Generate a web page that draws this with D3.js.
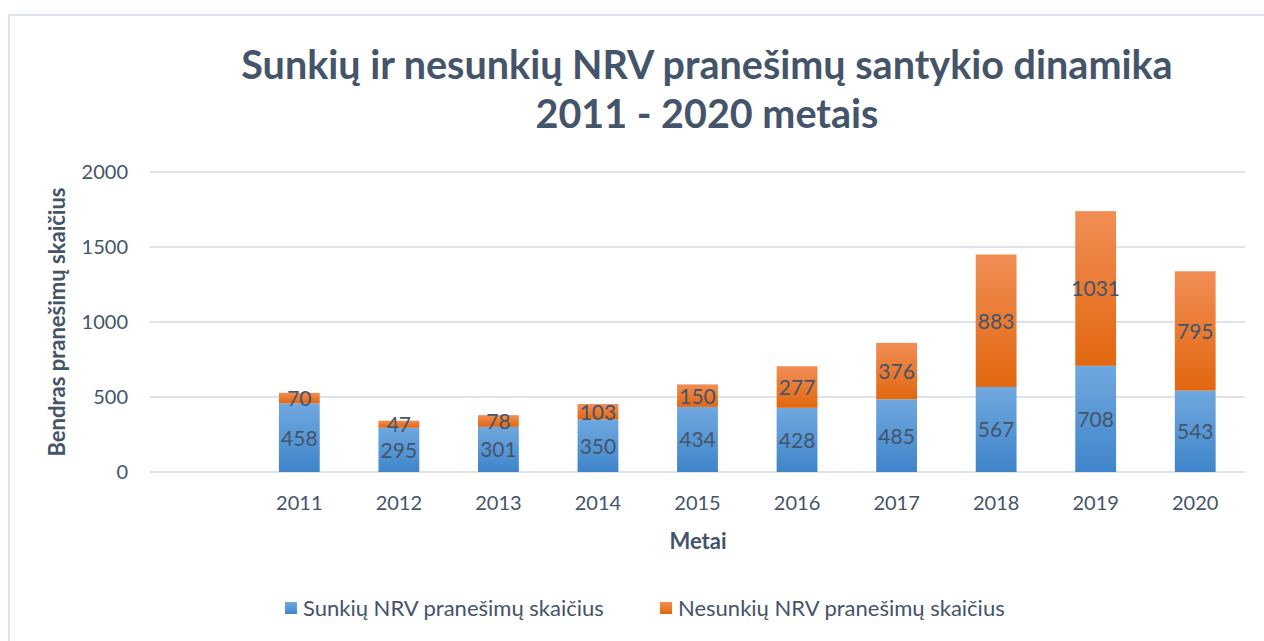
<!DOCTYPE html>
<html><head><meta charset="utf-8">
<script src="https://cdn.jsdelivr.net/npm/d3@7"></script>
<style>body{margin:0;background:#fff;}svg{display:block;font-family:Lato,"Open Sans",sans-serif;}</style>
</head><body>
<svg id="c" width="1264" height="641"></svg>
<script>
const categories = ["", "2011","2012","2013","2014","2015","2016","2017","2018","2019","2020"];
const sunkiu = [null, 458,295,301,350,434,428,485,567,708,543];
const nesunkiu = [null, 70,47,78,103,150,277,376,883,1031,795];
const yTicks = [0,500,1000,1500,2000];
const seriesNames = ["Sunkių NRV pranešimų skaičius","Nesunkių NRV pranešimų skaičius"];
const titleLines = ["Sunkių ir nesunkių NRV pranešimų santykio dinamika","2011 - 2020 metais"];
const yTitle = "Bendras pranešimų skaičius";
const xTitle = "Metai";

const txt = "#44546a";
const svg = d3.select("#c");
const defs = svg.append("defs");
function grad(id, top, bot){
  const g = defs.append("linearGradient").attr("id",id).attr("x1",0).attr("y1",0).attr("x2",0).attr("y2",1);
  g.append("stop").attr("offset","0%").attr("stop-color",top);
  g.append("stop").attr("offset","100%").attr("stop-color",bot);
}
grad("gBlue","#70a8df","#3f85ca");
grad("gOrange","#f18e55","#e2670f");

// frame
svg.append("rect").attr("x",9).attr("y",15).attr("width",1300).attr("height",700)
  .attr("fill","none").attr("stroke","#dde3ea").attr("stroke-width",2);

// title
svg.append("g").selectAll("text").data(titleLines).join("text")
  .attr("x",707).attr("y",(d,i)=>79+i*49).attr("text-anchor","middle")
  .attr("font-size",39.5).attr("font-weight","bold").attr("fill",txt).text(d=>d);

const x = d3.scaleBand().domain(categories).range([150,1245]).paddingInner(0.59).paddingOuter(0.295);
const y = d3.scaleLinear().domain([0,2000]).range([472,172]);

// grid
svg.append("g").selectAll("line").data(yTicks).join("line")
  .attr("x1",150).attr("x2",1245).attr("y1",d=>y(d)).attr("y2",d=>y(d))
  .attr("stroke","#dfe3e9").attr("stroke-width",2);

// y axis
const ya = svg.append("g").attr("transform","translate(150,0)")
  .call(d3.axisLeft(y).tickValues(yTicks).tickFormat(d3.format("d")).tickSize(0).tickPadding(22));
ya.select(".domain").remove();
ya.selectAll("text").attr("font-size",20).attr("fill",txt).attr("font-family","Lato,sans-serif");

// x axis
const xa = svg.append("g").attr("transform","translate(0,472)")
  .call(d3.axisBottom(x).tickSize(0).tickPadding(24));
xa.select(".domain").remove();
xa.selectAll("text").attr("font-size",20).attr("fill",txt).attr("font-family","Lato,sans-serif");

// bars
const rows = categories.map((c,i)=>({c, a:sunkiu[i], b:nesunkiu[i]})).filter(d=>d.a!=null);
const bw = x.bandwidth();
const g = svg.append("g");
rows.forEach(d=>{
  g.append("rect").attr("x",x(d.c)).attr("width",bw).attr("y",y(d.a)).attr("height",y(0)-y(d.a)).attr("fill","url(#gBlue)");
  g.append("rect").attr("x",x(d.c)).attr("width",bw).attr("y",y(d.a+d.b)).attr("height",y(d.a)-y(d.a+d.b)).attr("fill","url(#gOrange)");
  g.append("text").attr("x",x(d.c)+bw/2).attr("y",y(d.a/2)).attr("dy","0.38em").attr("text-anchor","middle")
    .attr("font-size",21).attr("fill",txt).text(d.a);
  g.append("text").attr("x",x(d.c)+bw/2).attr("y",y(d.a+d.b/2)).attr("dy","0.38em").attr("text-anchor","middle")
    .attr("font-size",21).attr("fill",txt).text(d.b);
});

// axis titles
svg.append("text").attr("x",698).attr("y",549).attr("text-anchor","middle")
  .attr("font-size",22).attr("font-weight","bold").attr("fill",txt).text(xTitle);
svg.append("text").attr("transform","translate(65,322) rotate(-90)").attr("text-anchor","middle")
  .attr("font-size",22).attr("font-weight","bold").attr("fill",txt).text(yTitle);

// legend
const leg = [{n:seriesNames[0],f:"url(#gBlue)",x:285},{n:seriesNames[1],f:"url(#gOrange)",x:660}];
const lg = svg.append("g").selectAll("g").data(leg).join("g").attr("transform",d=>`translate(${d.x},0)`);
lg.append("rect").attr("x",0).attr("y",602).attr("width",12).attr("height",12).attr("fill",d=>d.f);
lg.append("text").attr("x",18).attr("y",616).attr("font-size",22).attr("fill",txt).text(d=>d.n);
</script>
</body></html>
